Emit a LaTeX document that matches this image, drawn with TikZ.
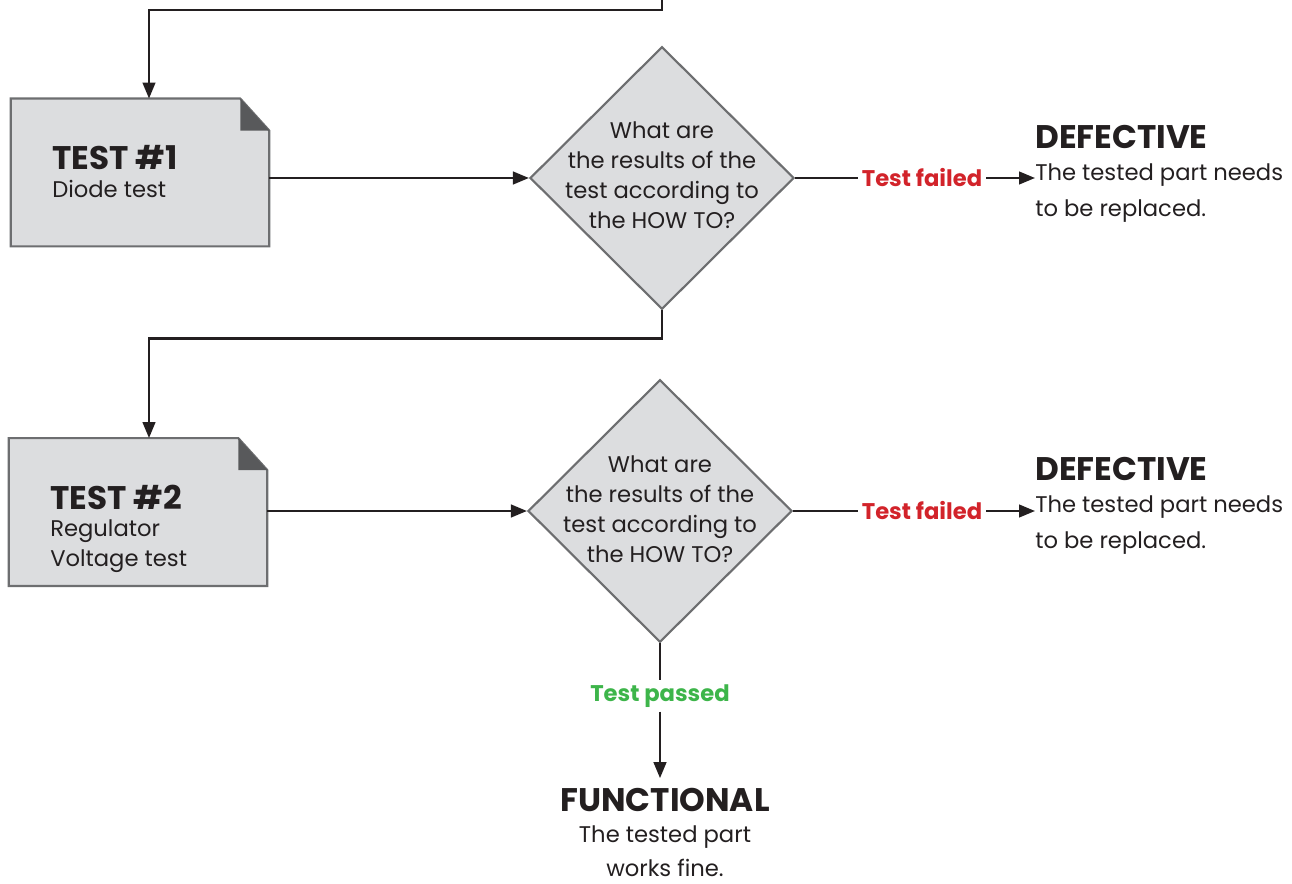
\documentclass[tikz,border=0pt]{standalone}
\usepackage{fontspec}
\setmainfont{Poppins}
\usetikzlibrary{calc,arrows.meta,shapes.geometric}
\definecolor{boxfill}{HTML}{DCDDDF}
\definecolor{boxgray}{HTML}{6D6E70}
\definecolor{earfill}{HTML}{58595B}
\definecolor{ink}{HTML}{231F20}
\definecolor{failred}{HTML}{D2232A}
\definecolor{passgreen}{HTML}{3DB54A}

\begin{document}
\begin{tikzpicture}[x=0.75pt,y=-0.75pt,
  conn/.style={draw=ink,line width=1.7pt},
  arr/.style={conn,-{Triangle[length=12pt,width=9.5pt]}},
  card/.style={minimum width=193.5pt,minimum height=110.5pt,inner sep=0pt},
  decision/.style={diamond,draw=boxgray,fill=boxfill,line width=1.6pt,minimum width=198pt,minimum height=197pt,inner sep=0pt},
  head/.style={inner sep=0pt,text=ink,font=\fontsize{24.5}{28}\selectfont\bfseries},
  body/.style={inner sep=0pt,text=ink,font=\fontsize{17}{22.5}\selectfont},
  qtext/.style={body,align=center},
  verdict/.style={inner sep=3pt,font=\fontsize{17}{20}\selectfont\bfseries}]
\useasboundingbox (0,0) rectangle (1292,884);
\def\EARX{29};\def\EARY{32};

\node[card] (t1) at (140,172.5) {};
\node[card] (t2) at (138,512) {};
\foreach \t in {t1,t2}{
  \filldraw[fill=boxfill,draw=boxgray,line width=1.6pt] (\t.south west) |- ($(\t.north east)+(-\EARX,0)$) -- ($(\t.north east)+(0,\EARY)$) -- (\t.south east) -- cycle;
  \fill[earfill] ($(\t.north east)+(-\EARX,0)$) -- ++(0,\EARY) -- ++(\EARX,0) -- cycle;
}
\node[head,anchor=base west] (t1h) at (52,170) {TEST \#1};
\node[body,anchor=base west] (t1b) at (52,198) {Diode test};
\node[head,anchor=base west] (t2h) at (50,509) {TEST \#2};
\node[body,anchor=base west,align=left] (t2b) at (50,566) {Regulator\\Voltage test};

\node[decision] (q1) at (662,178) {};
\node[qtext,anchor=base] (q1t) at (662,229) {What are\\the results of the\\test according to\\the HOW TO?};
\node[decision] (q2) at (660,511) {};
\node[qtext,anchor=base] (q2t) at (660,562) {What are\\the results of the\\test according to\\the HOW TO?};

\node[verdict,text=failred] (f1) at (922,178) {Test failed};
\node[verdict,text=failred] (f2) at (922,511) {Test failed};
\node[verdict,text=passgreen,fill=white] (p) at (660,696) {Test passed};

\node[head,anchor=base west] (d1h) at (1035,149) {DEFECTIVE};
\node[body,anchor=base west,align=left,font=\fontsize{17}{27}\selectfont] (d1) at (1035,217) {The tested part needs\\to be replaced.};
\node[head,anchor=base west] (d2h) at (1035,480) {DEFECTIVE};
\node[body,anchor=base west,align=left,font=\fontsize{17}{27}\selectfont] (d2) at (1035,548) {The tested part needs\\to be replaced.};
\node[head,anchor=base] (fn) at (665,811) {FUNCTIONAL};
\node[body,anchor=base,align=center,font=\fontsize{17}{25.5}\selectfont] (fnb) at (665,876) {The tested part\\works fine.};

\coordinate (in) at (662,-4);
\draw[arr] (in) -- ++(0,14) -| ([xshift=6.75pt]t1.north);
\draw[arr] (t1.east |- q1) -- (q1.west);
\draw[conn] (q1.east) -- (f1.west);
\draw[arr] (f1.east) -- (f1 -| d1.west);
\draw[arr] (q1.south) -- ++(0,28) -| ([xshift=8.25pt]t2.north);
\draw[arr] (t2.east |- q2) -- (q2.west);
\draw[conn] (q2.east) -- (f2.west);
\draw[arr] (f2.east) -- (f2 -| d2.west);
\draw[conn] (q2.south) -- (p.north);
\draw[arr] (p.south) -- ([yshift=7pt]p.south |- fn.north);
\end{tikzpicture}
\end{document}
